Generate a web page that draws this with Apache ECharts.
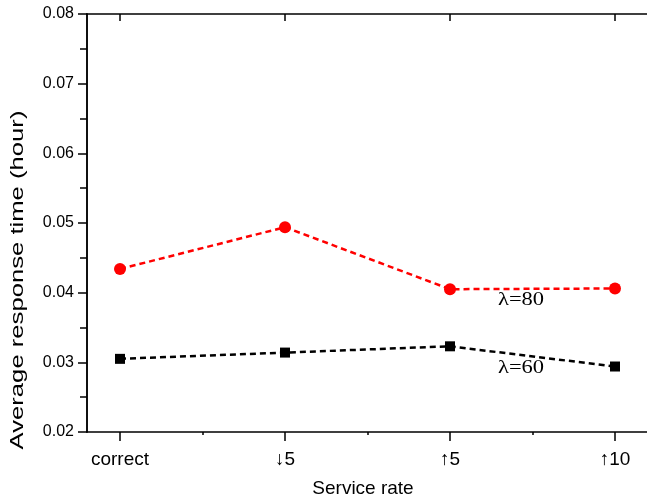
<!DOCTYPE html>
<html>
<head>
<meta charset="utf-8">
<script src="https://cdn.jsdelivr.net/npm/echarts@6/dist/echarts.min.js"></script>
<style>html,body{margin:0;padding:0;background:#fff;}#c{width:647px;height:502px;}</style>
</head>
<body>
<div id="c"></div>
<script>
const categories = ['correct', '\u21935', '\u21915', '\u219110'];
const lambda80 = [0.0434, 0.0494, 0.0405, 0.0406];
const lambda60 = [0.0305, 0.0314, 0.0323, 0.0294];
const yTicks = { min: 0.02, max: 0.08, step: 0.01 };
const seriesNames = ['\u03bb=80', '\u03bb=60'];
const xAxisTitle = 'Service rate';
const yAxisTitle = 'Average response time (hour)';

const chart = echarts.init(document.getElementById('c'), null, { renderer: 'canvas' });
const sans = 'Liberation Sans, Arial, sans-serif';
const serif = 'Liberation Serif, Times New Roman, serif';
const lineStyleAxis = { color: '#000', width: 1.5 };

chart.setOption({
  animation: false,
  backgroundColor: '#fff',
  grid: [
    { left: 87, right: -1, top: 14, bottom: 70, containLabel: false, outerBoundsMode: 'none' },
    { left: 120, right: 32, top: 14, bottom: 70, containLabel: false, outerBoundsMode: 'none' }
  ],
  xAxis: [
    { gridIndex: 0, type: 'value', min: 0, max: 1, position: 'bottom',
      axisLine: { show: true, lineStyle: lineStyleAxis }, axisTick: { show: false },
      axisLabel: { show: false }, splitLine: { show: false } },
    { gridIndex: 0, type: 'value', min: 0, max: 1, position: 'top',
      axisLine: { show: true, lineStyle: lineStyleAxis }, axisTick: { show: false },
      axisLabel: { show: false }, splitLine: { show: false } },
    { gridIndex: 1, type: 'category', data: categories, boundaryGap: false, position: 'bottom',
      axisLine: { show: false },
      axisTick: { show: true, inside: false, length: 9, lineStyle: lineStyleAxis },
      axisLabel: { show: true, margin: 18, color: '#000', fontFamily: sans, fontSize: 19 },
      splitLine: { show: false } },
    { gridIndex: 1, type: 'category', data: categories, boundaryGap: false, position: 'top',
      axisLine: { show: false },
      axisTick: { show: true, inside: true, length: 7, lineStyle: lineStyleAxis },
      axisLabel: { show: false }, splitLine: { show: false } },
    { gridIndex: 1, type: 'value', min: 0, max: 3, interval: 0.5, position: 'bottom',
      axisLine: { show: false },
      axisTick: { show: true, inside: false, length: 3, lineStyle: lineStyleAxis },
      axisLabel: { show: false }, splitLine: { show: false } }
  ],
  yAxis: [
    { gridIndex: 0, type: 'value', min: yTicks.min, max: yTicks.max, interval: yTicks.step, position: 'left',
      axisLine: { show: true, lineStyle: lineStyleAxis },
      axisTick: { show: true, inside: false, length: 9, lineStyle: lineStyleAxis },
      minorTick: { show: true, splitNumber: 2, length: 7, lineStyle: { color: '#000', width: 1.5 } },
      axisLabel: { show: true, margin: 13, color: '#000', fontFamily: sans, fontSize: 16,
        formatter: v => v.toFixed(2) },
      splitLine: { show: false } },
    { gridIndex: 0, type: 'value', min: yTicks.min, max: yTicks.max, interval: yTicks.step, position: 'right',
      axisLine: { show: true, lineStyle: lineStyleAxis },
      axisTick: { show: true, inside: true, length: 7, lineStyle: lineStyleAxis },
      minorTick: { show: true, splitNumber: 2, length: 4, lineStyle: { color: '#000', width: 1.5 } },
      axisLabel: { show: false }, splitLine: { show: false } },
    { gridIndex: 1, type: 'value', min: yTicks.min, max: yTicks.max, interval: yTicks.step,
      show: false, splitLine: { show: false } }
  ],
  series: [
    { name: seriesNames[0], type: 'line', xAxisIndex: 2, yAxisIndex: 2, data: lambda80,
      symbol: 'circle', symbolSize: 12, itemStyle: { color: '#ff0000' },
      lineStyle: { color: '#ff0000', width: 2.5, type: [6, 4] } },
    { name: seriesNames[1], type: 'line', xAxisIndex: 2, yAxisIndex: 2, data: lambda60,
      symbol: 'rect', symbolSize: 10, itemStyle: { color: '#000' },
      lineStyle: { color: '#000', width: 2.5, type: [6, 4] } }
  ],
  graphic: [
    { type: 'text', x: 498, y: 300, scaleX: 1.25,
      style: { text: seriesNames[0], font: '18px ' + serif, fill: '#000', verticalAlign: 'middle' } },
    { type: 'text', x: 498, y: 368, scaleX: 1.25,
      style: { text: seriesNames[1], font: '18px ' + serif, fill: '#000', verticalAlign: 'middle' } },
    { type: 'text', x: 363, y: 489,
      style: { text: xAxisTitle, font: '19px ' + sans, fill: '#000', align: 'center', verticalAlign: 'middle' } },
    { type: 'text', x: 18, y: 280, rotation: Math.PI / 2, scaleX: 1.35,
      style: { text: yAxisTitle, font: '19px ' + sans, fill: '#000',
        align: 'center', verticalAlign: 'middle' } }
  ]
});
</script>
</body>
</html>
